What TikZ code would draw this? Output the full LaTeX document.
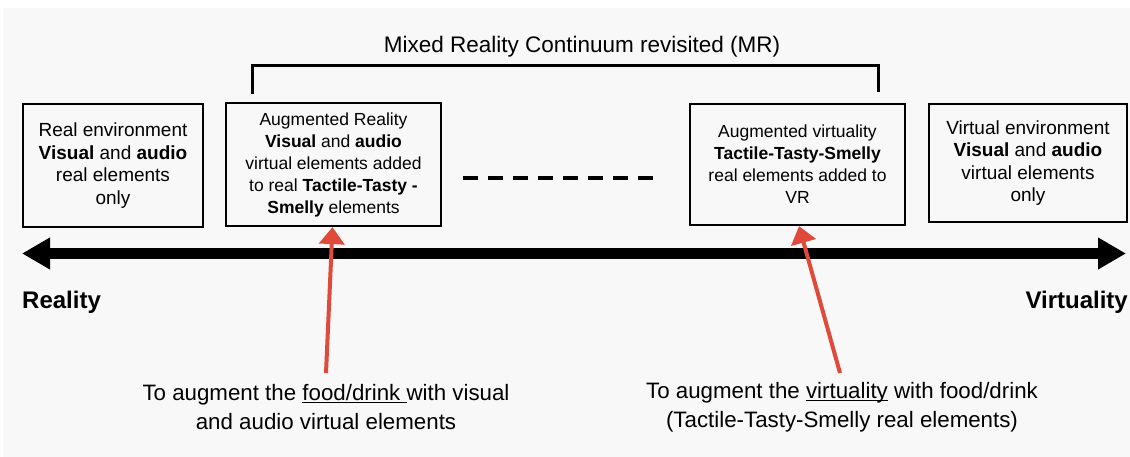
\documentclass[tikz,border=0pt]{standalone}
\usepackage{fontspec}
\setmainfont{Liberation Sans}
\usetikzlibrary{arrows.meta}
\definecolor{bgcol}{HTML}{F8F8F8}
\definecolor{redarrow}{HTML}{E04A3B}
\newcommand\myul[1]{\setbox0\hbox{#1}\rlap{\rule[-2.2pt]{\wd0}{1pt}}\box0\relax}
\tikzset{
  envbox/.style={draw=black, line width=2.2pt, inner sep=0pt, align=center,
    font=\fontsize{19}{22.5}\selectfont},
  augbox/.style={draw=black, line width=2.2pt, inner sep=0pt, align=center,
    font=\fontsize{17.5}{22}\selectfont},
  redarr/.style={draw=redarrow, line width=4pt, -{Triangle[length=17pt,width=25pt]}},
  mainarr/.style={draw=black, line width=10.5pt, {Triangle[length=28pt,width=30pt]}-{Triangle[length=28pt,width=30pt]}},
  bottomtext/.style={align=center, inner sep=0pt, font=\fontsize{22.3}{29}\selectfont},
  endlabel/.style={inner sep=0pt, font=\fontsize{24}{28}\selectfont\bfseries},
}
\begin{document}
\begin{tikzpicture}[x=1pt,y=-1pt]
\useasboundingbox (0,0) rectangle (1130,457);
\fill[white] (0,0) rectangle (1130,457);
\fill[bgcol] (3,8) rectangle (1130,457);

% title
\node[inner sep=0pt, font=\fontsize{22.5}{26}\selectfont] (title) at (582,47) {Mixed Reality Continuum revisited (MR)};

% bracket
\coordinate (bl) at (252,94);
\coordinate (bltop) at (252,66);
\coordinate (brtop) at (878,66);
\coordinate (br) at (878,92);
\draw[line width=3pt] (bl) -- (bltop) -- (brtop) -- (br);

% boxes
\node[envbox, minimum width=180pt, minimum height=123pt] (real) at (113,165.5)
  {Real environment\\ \textbf{Visual} and \textbf{audio}\\ real elements\\ only};
\node[augbox, minimum width=215pt, minimum height=123pt] (ar) at (333.5,164.5)
  {Augmented Reality\\ \textbf{Visual} and \textbf{audio}\\ virtual elements added\\ to real \textbf{Tactile-Tasty -}\\ \textbf{Smelly} elements};
\node[augbox, minimum width=215pt, minimum height=121pt] (av) at (797.5,164.5)
  {Augmented virtuality\\ \textbf{Tactile-Tasty-Smelly}\\ real elements added to\\ VR};
\node[envbox, minimum width=198pt, minimum height=118pt] (virt) at (1028,163)
  {Virtual environment\\ \textbf{Visual} and \textbf{audio}\\ virtual elements\\ only};

% dashed line
\coordinate (d1) at (463,178);
\coordinate (d2) at (655,178);
\draw[line width=4pt, dash pattern=on 15pt off 10pt] (d1) -- (d2);

% main axis
\coordinate (axl) at (22,253.5);
\coordinate (axr) at (1126,253.5);
\draw[mainarr] (axl) -- (axr);

\node[endlabel, anchor=base west] (reality) at (22,308) {Reality};
\node[endlabel, anchor=base east] (virtuality) at (1128,308) {Virtuality};

% bottom texts
\node[bottomtext] (lefttext) at (326,407.5)
  {To augment the \myul{food/drink\ }with visual\\ and audio virtual elements};
\node[bottomtext] (righttext) at (842,407.5)
  {To augment the \myul{virtuality} with food/drink\\ (Tactile-Tasty-Smelly real elements)};

% red arrows
\coordinate (la) at (326,373);
\coordinate (ra) at (840,373);
\draw[redarr] (la) -- ([xshift=-1pt]ar.south);
\draw[redarr] (ra) -- ([xshift=1.5pt]av.south);
\end{tikzpicture}
\end{document}
